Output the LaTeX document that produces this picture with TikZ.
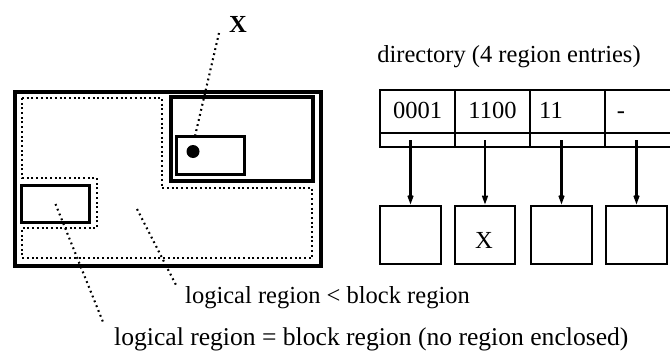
\documentclass[tikz,border=0pt]{standalone}
\usepackage{fontspec}
\setmainfont{Liberation Serif}
\usetikzlibrary{arrows.meta}

\begin{document}
\begin{tikzpicture}[x=1pt,y=-1pt,
  txt/.style={font=\fontsize{24.5}{28}\selectfont, inner sep=0pt, anchor=base},
  heavy/.style={line width=3.4pt},
  boxline/.style={line width=3.2pt},
  dots/.style={line width=2.3pt, dash pattern=on 2pt off 2.7pt},
  leader/.style={line width=2.1pt, dash pattern=on 1.8pt off 3.4pt},
  cell/.style={line width=2pt},
  bucket/.style={minimum width=60pt, minimum height=57pt, inner sep=0pt},
  ptr/.style={line width=2.2pt, shorten >=2pt, -{Stealth[length=16pt,width=12pt,inset=10pt]}}
]
\useasboundingbox (0,0) rectangle (670,351);

% ---------- storage area with regions ----------
\draw[heavy] (15,92) rectangle (321,266);
\draw[dots] (22,98) -- (162,98) -- (162,188) -- (312,188) -- (312,258)
  -- (22,258) -- (22,228) -- (97,228) -- (97,178) -- (22,178) -- cycle;
\draw[heavy] (171,97) rectangle (313,181);
\node[inner sep=0pt, minimum width=67pt, minimum height=37pt] (inner) at (210.5,155.5) {};
\draw[boxline] (inner.south west) rectangle (inner.north east);
\node[inner sep=0pt, minimum width=67pt, minimum height=36pt] (cell) at (55.5,204) {};
\draw[boxline] (cell.south west) rectangle (cell.north east);
\node[circle, fill, inner sep=0pt, minimum size=13pt] (dot) at (193,151.5) {};

% ---------- labels and leaders ----------
\node[txt, font=\fontsize{24.5}{28}\selectfont\bfseries] (xl) at (238,32) {X};
\coordinate (xfoot) at (219,33);
\draw[leader, shorten >=6pt] (xfoot) -- (dot.north);

\node[txt, anchor=base west] (ltlbl) at (185,303) {logical region < block region};
\node[txt, anchor=base west, font=\fontsize{25.6}{28}\selectfont] (eqlbl) at (114,345)
  {logical region = block region (no region enclosed)};

\coordinate (area) at (137,209);
\coordinate (ltend) at (177,287);
\draw[leader] (area) -- (ltend);
\coordinate (eqend) at (103,322);
\draw[leader] (cell.center) -- (eqend);

% ---------- directory ----------
\node[txt] (dirlbl) at (509,62) {directory (4 region entries)};
\draw[cell] (672,90) -- (380,90) -- (380,147) -- (672,147);
\draw[cell] (380,133) -- (672,133);
\draw[cell] (455,90) -- (455,147);
\draw[cell] (530,90) -- (530,147);
\draw[cell] (605,90) -- (605,147);
\node[txt] (c1) at (417.5,118) {0001};
\node[txt] (c2) at (492.5,118) {1100};
\node[txt, anchor=base west] (c3) at (539,118) {11};
\node[txt] (c4) at (621,118) {-};

% ---------- buckets ----------
\foreach \b/\x in {b1/410.5, b2/485, b3/561.5, b4/636.5} {
  \node[bucket] (\b) at (\x,235) {};
  \draw[cell] (\b.south west) rectangle (\b.north east);
}
\node[txt] (bx) at (484,248) {X};

\coordinate (slot) at (0,140);
\foreach \b in {b1,b2,b3,b4}
  \draw[ptr] (\b.north |- slot) -- (\b.north);
\end{tikzpicture}
\end{document}
